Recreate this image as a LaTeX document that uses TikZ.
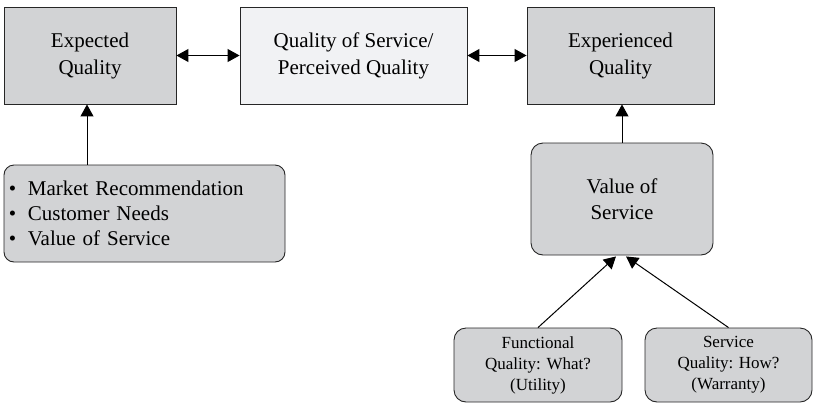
\documentclass[tikz,border=0pt]{standalone}
\usepackage{fontspec}
\setmainfont{Liberation Serif}
\usetikzlibrary{arrows.meta,calc}
\definecolor{boxgray}{HTML}{D2D3D5}
\definecolor{boxlight}{HTML}{F1F2F4}
\tikzset{
  base/.style={draw=black!85, line width=0.9pt, align=center, inner sep=0pt},
  sqbox/.style={base, fill=boxgray, minimum height=97pt, font=\fontsize{21}{27}\selectfont},
  lightbox/.style={sqbox, fill=boxlight},
  rbox/.style={base, fill=boxgray, rounded corners=12pt},
  arr/.style={line width=1pt, -{Triangle[length=12pt,width=13pt]}},
  darr/.style={line width=1pt, {Triangle[length=12pt,width=13pt]}-{Triangle[length=12pt,width=13pt]}}
}
\begin{document}
\begin{tikzpicture}[x=1pt,y=-1pt]
\useasboundingbox (0,0) rectangle (813,405);
\node[sqbox, minimum width=172pt] (exp) at (90,55.5) {Expected\\Quality};
\node[lightbox, minimum width=227pt] (qos) at (353.5,55.5) {Quality of Service/\\Perceived Quality};
\node[sqbox, minimum width=187pt] (expd) at (620.5,55.5) {Experienced\\Quality};
\node[rbox, rounded corners=10pt, minimum height=97pt, text width=271pt, inner xsep=5pt, align=left,
  font=\fontsize{21}{25}\selectfont] (list) at (144.5,213.5)
  {\textbullet\hspace{11.5pt}Market Recommendation\\
   \textbullet\hspace{11.5pt}Customer Needs\\
   \textbullet\hspace{11.5pt}Value of Service};
\node[rbox, minimum width=182pt, minimum height=112pt, font=\fontsize{21}{26}\selectfont] (val) at (622,199) {Value of\\Service};
\node[rbox, minimum width=168pt, minimum height=74pt, font=\fontsize{17}{21}\selectfont] (func) at (538,365) {Functional\\Quality: What?\\(Utility)};
\node[rbox, minimum width=167pt, minimum height=74pt, font=\fontsize{17}{21}\selectfont] (serv) at (728.5,365) {Service\\Quality: How?\\(Warranty)};
\draw[darr] (exp.east) -- (qos.west);
\draw[darr] (qos.east) -- (expd.west);
\draw[arr] ([xshift=-3pt]exp.south |- list.north) -- ([xshift=-3pt]exp.south);
\draw[arr] (val.north) -- (val.north |- expd.south);
\draw[arr] (func.north) -- ([xshift=-6pt,yshift=-1pt]val.south);
\draw[arr] (serv.north) -- ([xshift=4pt,yshift=-1pt]val.south);
\end{tikzpicture}
\end{document}
